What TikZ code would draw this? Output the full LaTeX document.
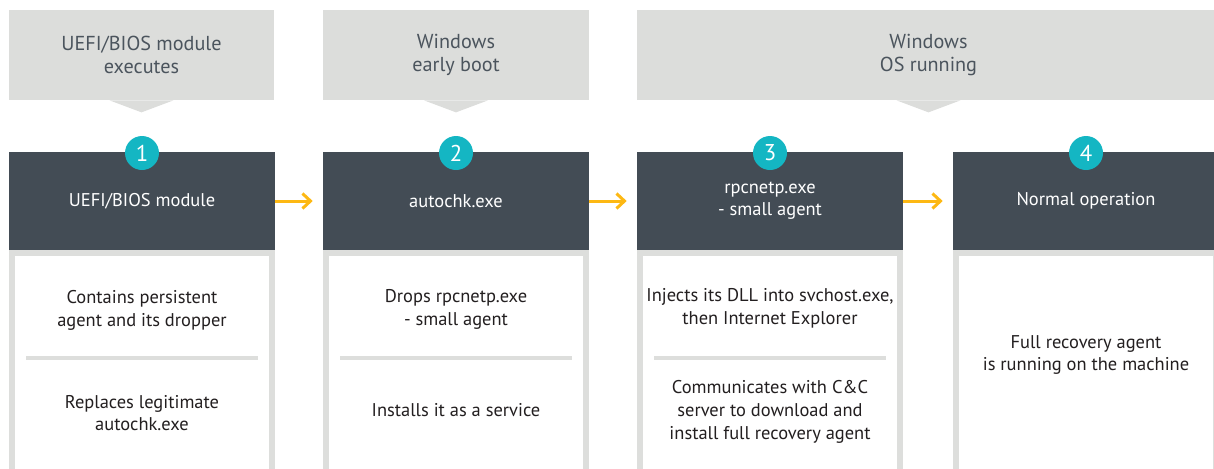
\documentclass[tikz,border=0pt]{standalone}
\usepackage{fontspec}
\setmainfont{PT Sans}
\usepackage{tikz}
\usetikzlibrary{arrows.meta}

\definecolor{hdrgray}{HTML}{DCDDDB}
\definecolor{slate}{HTML}{434C55}
\definecolor{teal}{HTML}{14B6C3}
\definecolor{amber}{HTML}{FDB813}
\definecolor{rimgray}{HTML}{DDDEDC}
\definecolor{hdrtext}{HTML}{4B545D}
\definecolor{bodytext}{HTML}{231F20}

\tikzset{
  hdr/.style={fill=hdrgray,text=hdrtext,align=center,minimum height=1.8cm,
    font=\fontsize{11.5}{13}\selectfont},
  opbox/.style={fill=slate,text=white,align=center,minimum width=5.32cm,
    minimum height=1.96cm,font=\fontsize{10.5}{12.5}\selectfont},
  infobox/.style={draw=rimgray,line width=0.12cm,fill=white,minimum width=5.2cm,
    minimum height=4.54cm},
  num/.style={circle,fill=teal,text=white,minimum size=0.68cm,inner sep=0pt,
    font=\fontsize{13}{13}\selectfont},
  txt/.style={text=bodytext,align=center,font=\fontsize{10.5}{13}\selectfont},
  sep/.style={rimgray,line width=0.08cm},
  flow/.style={amber,line width=0.06cm,-{Straight Barb[length=0.16cm,width=0.3cm]},
    shorten >=0.2cm}
}

\begin{document}
\begin{tikzpicture}[x=0.02cm,y=-0.02cm]

\useasboundingbox (0,0) rectangle (1214,468);
\clip (0,0) rectangle (1214,468);

% stage headers
\node[hdr,minimum width=5.3cm] (h1) at (141.5,55) {UEFI/BIOS module\\executes};
\node[hdr,minimum width=5.32cm] (h2) at (456,55) {Windows\\early boot};
\node[hdr,minimum width=11.66cm] (h3) at (928.5,55) {Windows\\OS running};

\fill[hdrgray] ([xshift=-0.64cm]h1.south) -- ([yshift=-0.24cm]h1.south) -- ([xshift=0.64cm]h1.south) -- cycle;
\fill[hdrgray] ([xshift=-0.64cm]h2.south) -- ([yshift=-0.24cm]h2.south) -- ([xshift=0.64cm]h2.south) -- cycle;
\fill[hdrgray] ([xshift=-0.64cm]h3.south) -- ([yshift=-0.24cm]h3.south) -- ([xshift=0.64cm]h3.south) -- cycle;

% info boxes
\node[infobox] (b1) at (142,366.5) {};
\node[infobox] (b2) at (456,366.5) {};
\node[infobox] (b3) at (770,366.5) {};
\node[infobox] (b4) at (1086,366.5) {};

% step boxes
\node[opbox] (op1) at (142,201) {UEFI/BIOS module};
\node[opbox] (op2) at (456,201) {autochk.exe};
\node[opbox] (op3) at (770,201) {rpcnetp.exe\\- small agent};
\node[opbox] (op4) at (1086,201) {Normal operation};

% step numbers
\node[num] (n1) at (142,153) {1};
\node[num] (n2) at (456,153) {2};
\node[num] (n3) at (770,153) {3};
\node[num] (n4) at (1086,153) {4};

\draw[flow] (op1) -- (op2);
\draw[flow] (op2) -- (op3);
\draw[flow] (op3) -- (op4);

% box texts
\node[txt] (t1a) at (142,310) {Contains persistent\\agent and its dropper};
\node[txt] (t1b) at (142,413) {Replaces legitimate\\autochk.exe};
\draw[sep] (26,358) -- (258,358);

\node[txt] (t2a) at (456,309) {Drops rpcnetp.exe\\- small agent};
\node[txt] (t2b) at (456,410) {Installs it as a service};
\draw[sep] (340,358) -- (572,358);

\node[txt] (t3a) at (770,308) {Injects its DLL into svchost.exe,\\then Internet Explorer};
\node[txt] (t3b) at (770,412) {Communicates with C\&C\\server to download and\\install full recovery agent};
\draw[sep] (654,358) -- (886,358);

\node[txt] (t4) at (1086,355) {Full recovery agent\\is running on the machine};

\end{tikzpicture}
\end{document}
